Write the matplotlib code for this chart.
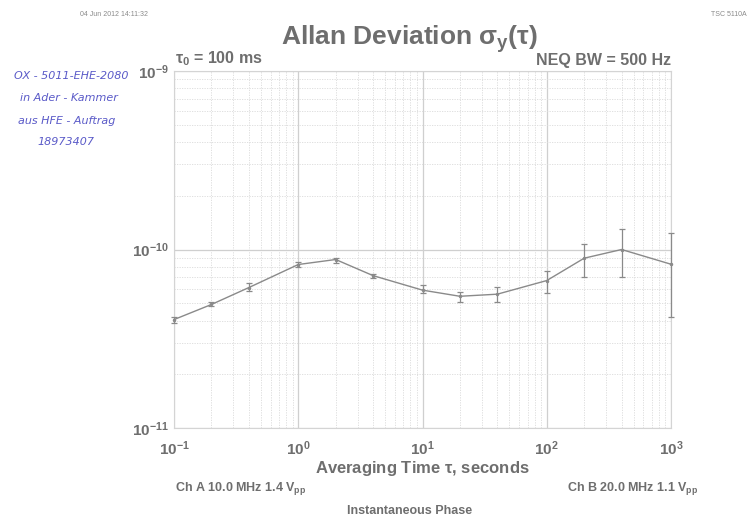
import numpy as np
import matplotlib

matplotlib.use("Agg")
import matplotlib.pyplot as plt
from matplotlib.ticker import LogLocator, FixedLocator


# ============================================================
# Data (Allan deviation plot)
# ============================================================

tau = [0.1, 0.2, 0.4, 1, 2, 4, 10, 20, 40, 100, 200, 400, 1000]
adev = [4.05e-11, 4.92e-11, 6.12e-11, 8.24e-11, 8.79e-11, 7.14e-11, 5.92e-11,
        5.47e-11, 5.62e-11, 6.70e-11, 8.94e-11, 1.00e-10, 8.27e-11]
adev_hi = [4.20e-11, 5.05e-11, 6.45e-11, 8.53e-11, 9.02e-11, 7.27e-11, 6.31e-11,
           5.79e-11, 6.15e-11, 7.60e-11, 1.076e-10, 1.306e-10, 1.23e-10]
adev_lo = [3.88e-11, 4.81e-11, 5.89e-11, 7.96e-11, 8.42e-11, 6.90e-11, 5.71e-11,
           5.09e-11, 5.09e-11, 5.67e-11, 7.03e-11, 7.03e-11, 4.18e-11]

x_ticks = [1e-1, 1e0, 1e1, 1e2, 1e3]
x_labels = [r"$10^{-1}$", r"$10^{0}$", r"$10^{1}$", r"$10^{2}$", r"$10^{3}$"]
y_ticks = [1e-11, 1e-10, 1e-9]
y_labels = [r"$10^{-11}$", r"$10^{-10}$", r"$10^{-9}$"]

notes = ["OX - 5011-EHE-2080", "in Ader - Kammer", "aus HFE - Auftrag", "18973407"]


# ============================================================
# Figure
# ============================================================

plt.rcParams["font.family"] = ["Liberation Sans", "DejaVu Sans"]
plt.rcParams["mathtext.fontset"] = "custom"
plt.rcParams["mathtext.rm"] = "Liberation Sans:bold"
plt.rcParams["mathtext.it"] = "Liberation Sans:bold"

TXT = "#6e6e6e"
GRID = "#cfcfcf"

fig = plt.figure(figsize=(7.52, 5.21), dpi=100)
ax = fig.add_axes([0.2314, 0.1785, 0.6609, 0.6852])

y = np.array(adev)
yerr = np.array([y - np.array(adev_lo), np.array(adev_hi) - y])

eb = ax.errorbar(tau, adev, yerr=yerr, color="#8a8a8a", linewidth=1.0,
                 elinewidth=0.9, capsize=2.5, capthick=0.9,
                 marker="o", markersize=1.5, zorder=3)
for art in eb.lines[1] + eb.lines[2]:
    art.set_clip_on(False)
    art.set_zorder(3)
eb.lines[0].set_clip_on(False)

ax.set_xscale("log")
ax.set_yscale("log")
ax.set_xlim(1e-1, 1e3)
ax.set_ylim(1e-11, 1e-9)

ax.xaxis.set_major_locator(FixedLocator(x_ticks))
ax.set_xticklabels(x_labels)
ax.yaxis.set_major_locator(FixedLocator(y_ticks))
ax.set_yticklabels(y_labels)
ax.xaxis.set_minor_locator(LogLocator(base=10, subs=np.arange(2, 10), numticks=20))
ax.yaxis.set_minor_locator(LogLocator(base=10, subs=np.arange(2, 10), numticks=20))

ax.grid(which="major", color=GRID, linewidth=0.9, linestyle="-")
ax.grid(which="minor", color="#dadada", linewidth=0.6, linestyle=(0, (1.5, 1.5)))
ax.set_axisbelow(True)

ax.tick_params(which="both", length=0, colors=TXT, labelsize=11)
ax.tick_params(axis="x", pad=8)
ax.tick_params(axis="y", pad=4)
for sp in ax.spines.values():
    sp.set_color("#d4d4d4")
    sp.set_linewidth(0.8)

ax.set_xlabel(r"Averaging Time $\tau$, seconds", color=TXT, fontsize=12,
              fontweight="bold", labelpad=1)

# header texts
fig.text(0.545, 0.925, r"Allan Deviation $\sigma_y(\tau)$", color=TXT,
         fontsize=19, fontweight="bold", ha="center", va="center")
fig.text(0.233, 0.888, r"$\tau_0$ = 100 ms", color=TXT, fontsize=11.5,
         fontweight="bold", ha="left", va="center")
fig.text(0.893, 0.884, "NEQ BW = 500 Hz", color=TXT, fontsize=11.5,
         fontweight="bold", ha="right", va="center")
fig.text(0.106, 0.973, "04 Jun 2012 14:11:32", color="#8a8a8a", fontsize=5,
         ha="left", va="center")
fig.text(0.945, 0.973, "TSC 5110A", color="#8a8a8a", fontsize=5,
         ha="left", va="center")

# footer texts
fig.text(0.233, 0.063, r"Ch A 10.0 MHz 1.4 V$_{pp}$", color=TXT, fontsize=9,
         fontweight="bold", ha="left", va="center")
fig.text(0.928, 0.063, r"Ch B 20.0 MHz 1.1 V$_{pp}$", color=TXT, fontsize=9,
         fontweight="bold", ha="right", va="center")
fig.text(0.545, 0.020, "Instantaneous Phase", color=TXT, fontsize=9,
         fontweight="bold", ha="center", va="center")

# handwritten notes on the printout
note_pos = [(0.018, 0.855), (0.026, 0.812), (0.024, 0.768), (0.050, 0.727)]
for (nx, ny), s in zip(note_pos, notes):
    fig.text(nx, ny, s, color="#5a5ac8", fontsize=8, style="italic",
             family=["DejaVu Sans"], fontweight="light", ha="left", va="center")

fig.savefig("out.png", dpi=100)
